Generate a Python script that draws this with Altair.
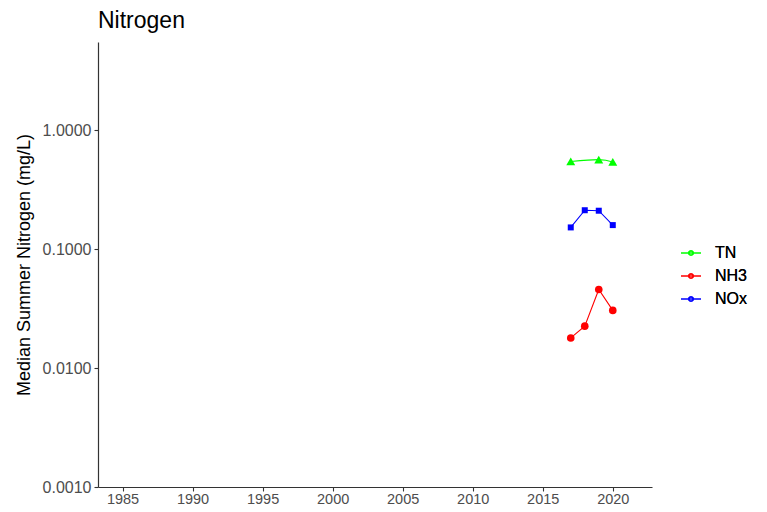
import altair as alt
import pandas as pd

series = ["TN", "NH3", "NOx"]
colors = ["#00FF00", "#FF0000", "#0000FF"]
shapes = ["triangle-up", "circle", "square"]
point_sizes = [80, 36, 40]

tn_years = [2017, 2019, 2020]
tn_vals = [0.545, 0.565, 0.540]
nh3_years = [2017, 2018, 2019, 2020]
nh3_vals = [0.0179, 0.0225, 0.0457, 0.0305]
nox_years = [2017, 2018, 2019, 2020]
nox_vals = [0.152, 0.212, 0.210, 0.159]

x_ticks = [1985, 1990, 1995, 2000, 2005, 2010, 2015, 2020]
y_ticks = [0.001, 0.01, 0.1, 1.0]

rows = []
for name, ys, vs in [("TN", tn_years, tn_vals), ("NH3", nh3_years, nh3_vals), ("NOx", nox_years, nox_vals)]:
    for y, v in zip(ys, vs):
        rows.append({"Year": y, "Value": v, "Param": name, "Marker": name})
df = pd.DataFrame(rows)

legend_symbol = "M-1,0H1M-0.22,0A0.22,0.22 0 1,1 0.22,0A0.22,0.22 0 1,1 -0.22,0Z"

x_enc = alt.X("Year:Q",
              scale=alt.Scale(domain=[1983.25, 2022.8], nice=False, zero=False),
              axis=alt.Axis(values=x_ticks, format="d", title=None, grid=False,
                            labelPadding=1, labelFontSize=14.5))
y_enc = alt.Y("Value:Q",
              scale=alt.Scale(type="log", domain=[0.001, 5.5], nice=False),
              axis=alt.Axis(values=y_ticks, format=".4f", title="Median Summer Nitrogen (mg/L)",
                            grid=False, labelFontSize=16, titlePadding=9))
color_enc = alt.Color("Param:N",
                      scale=alt.Scale(domain=series, range=colors),
                      legend=alt.Legend(title=None, symbolType=legend_symbol, symbolSize=400,
                                        symbolStrokeWidth=1.2, orient="none",
                                        legendX=582, legendY=200))

base = alt.Chart(df)

tn_line = base.transform_filter(alt.datum.Param == "TN").mark_line(
    interpolate="natural", strokeWidth=1.1, clip=True).encode(x=x_enc, y=y_enc, color=color_enc)
other_lines = base.transform_filter(alt.datum.Param != "TN").mark_line(
    strokeWidth=1.1, clip=True).encode(x=x_enc, y=y_enc, color=color_enc, detail="Param:N")
points = base.mark_point(filled=True, opacity=1, clip=True).encode(
    x=x_enc, y=y_enc,
    color=alt.Color("Marker:N", scale=alt.Scale(domain=series, range=colors), legend=None),
    shape=alt.Shape("Marker:N", scale=alt.Scale(domain=series, range=shapes), legend=None),
    size=alt.Size("Marker:N", scale=alt.Scale(domain=series, range=point_sizes), legend=None),
)

chart = alt.layer(tn_line, other_lines, points).resolve_scale(color="independent").properties(
    width=554, height=445,
    title=alt.TitleParams("Nitrogen", anchor="start", frame="group", fontSize=23,
                          fontWeight="normal", font="Liberation Sans", color="#000000", offset=9),
    autosize=alt.AutoSizeParams(type="none"),
    padding={"left": 90, "top": 34, "right": 107, "bottom": 20},
).configure_view(stroke=None).configure_axis(
    labelFont="Liberation Sans", titleFont="Liberation Sans",
    labelFontSize=14, labelColor="#4D4D4D", titleFontSize=18, titleColor="#000000",
    titleFontWeight="normal", domainColor="#333333", tickColor="#333333",
    domainWidth=1.2, tickWidth=1.1, tickSize=4, labelPadding=3,
).configure_legend(
    labelFont="Liberation Sans", labelFontSize=16, labelColor="#000000",
    labelOffset=13, rowPadding=4, padding=0,
)

chart.save("out.html", embed_options={"renderer": "svg", "actions": False})
